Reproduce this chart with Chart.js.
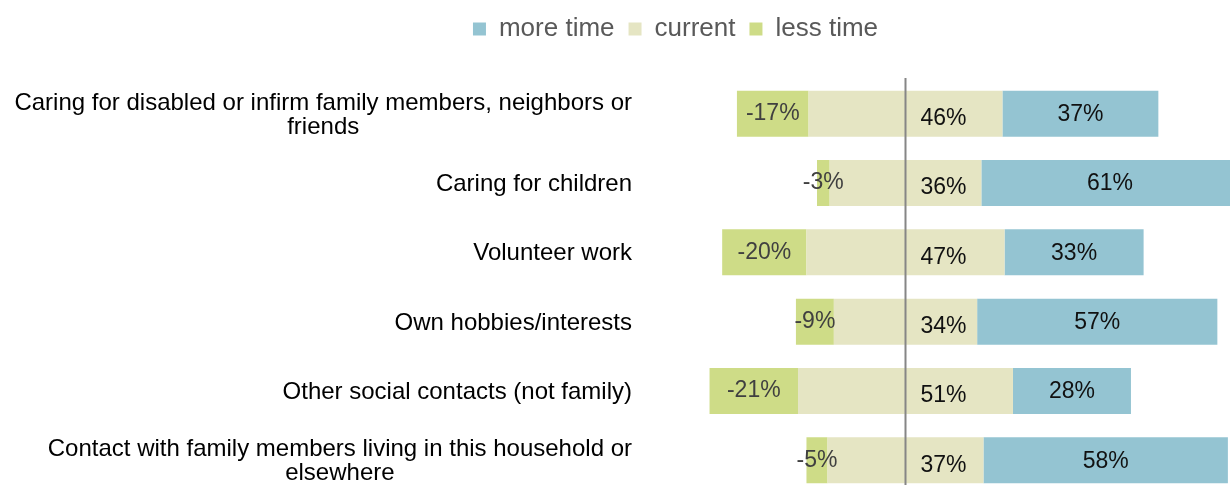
<!DOCTYPE html>
<html>
<head>
<meta charset="utf-8">
<title>Time use</title>
<script src="https://cdn.jsdelivr.net/npm/chart.js@4.4.1/dist/chart.umd.min.js"></script>
<style>
    html, body { margin: 0; padding: 0; background: #fff; overflow: hidden; }
    #wrap { position: relative; width: 1230px; height: 496px; }
</style>
</head>
<body>
<div id="wrap"><canvas id="bar-chart"></canvas></div>
<script>
"use strict";

var categories = [
    ["Caring for disabled or infirm family members, neighbors or", "friends"],
    ["Caring for children"],
    ["Volunteer work"],
    ["Own hobbies/interests"],
    ["Other social contacts (not family)"],
    ["Contact with family members living in this household or", "elsewhere"]
];
var lessTime = [-17, -3, -20, -9, -21, -5];
var currentTime = [46, 36, 47, 34, 51, 37];
var moreTime = [37, 61, 33, 57, 28, 58];

var FONT = '"Liberation Sans", Arial, sans-serif';
var COLOR_MORE = "#94C4D2";
var COLOR_CURRENT = "#E5E5C3";
var COLOR_LESS = "#CEDC87";

// legend sits a bit right of centre and leaves a fixed gap above the bars
var legendPlacement = {
    id: 'legendPlacement',
    beforeInit: function (chart) {
        var fit = chart.legend.fit;
        chart.legend.fit = function () {
            fit.call(this);
            this.height = 79;
        };
    },
    afterLayout: function (chart) {
        chart.legend.left += 121;
        chart.legend.top += 2;
    }
};

// zero line, value labels and the category names
var barLabels = {
    id: 'barLabels',
    afterDatasetsDraw: function (chart) {
        var ctx = chart.ctx;
        var xScale = chart.scales.x;
        var yScale = chart.scales.y;
        var area = chart.chartArea;
        var zero = xScale.getPixelForValue(0);

        ctx.save();
        ctx.strokeStyle = "#868686";
        ctx.lineWidth = 2;
        ctx.beginPath();
        ctx.moveTo(zero, area.top - 1);
        ctx.lineTo(zero, area.bottom);
        ctx.stroke();

        ctx.font = '23px ' + FONT;
        ctx.textBaseline = 'middle';

        //less time, centred in its segment
        ctx.textAlign = 'center';
        ctx.fillStyle = "#404040";
        chart.getDatasetMeta(1).data.forEach(function (bar, i) {
            ctx.fillText(lessTime[i] + '%', (bar.x + bar.base) / 2, bar.y);
        });

        //current, just right of the zero line
        ctx.textAlign = 'left';
        ctx.fillStyle = "#111";
        chart.getDatasetMeta(2).data.forEach(function (bar, i) {
            ctx.fillText(currentTime[i] + '%', zero + 15, bar.y + 5);
        });

        //more time
        ctx.textAlign = 'center';
        chart.getDatasetMeta(3).data.forEach(function (bar, i) {
            ctx.fillText(moreTime[i] + '%', (bar.x + bar.base) / 2, bar.y + 1);
        });

        //category names, lines centred on each other, block right aligned
        ctx.font = '24px ' + FONT;
        ctx.fillStyle = "#000";
        ctx.textAlign = 'center';
        var right = yScale.right - 8;
        categories.forEach(function (lines, i) {
            var widest = 0;
            lines.forEach(function (t) {
                widest = Math.max(widest, ctx.measureText(t).width);
            });
            var cy = yScale.getPixelForValue(i) + 1.5 - (lines.length - 1) * 12;
            lines.forEach(function (t, j) {
                ctx.fillText(t, right - widest / 2, cy + j * 24);
            });
        });
        ctx.restore();
    }
};

var barChartData = {
    labels: categories,
    datasets: [{
        label: "current-left",
        backgroundColor: COLOR_CURRENT,
        data: currentTime.map(function (v) { return -v / 2; })
    }, {
        label: "less time",
        backgroundColor: COLOR_LESS,
        data: lessTime
    }, {
        label: "current",
        backgroundColor: COLOR_CURRENT,
        data: currentTime.map(function (v) { return v / 2; })
    }, {
        label: "more time",
        backgroundColor: COLOR_MORE,
        data: moreTime
    }]
};

function draw() {
    var myBar = new Chart(document.getElementById("bar-chart"), {
        type: 'bar',
        data: barChartData,
        plugins: [legendPlacement, barLabels],
        options: {
            indexAxis: 'y',
            responsive: true,
            maintainAspectRatio: false,
            animation: false,
            layout: { padding: { top: 0, right: 0, bottom: 1, left: 0 } },
            datasets: {
                bar: {
                    categoryPercentage: 1,
                    barPercentage: 0.664,
                    borderWidth: 0
                }
            },
            scales: {
                x: {
                    stacked: true,
                    display: false,
                    min: -63,
                    max: 77
                },
                y: {
                    stacked: true,
                    grid: { display: false, drawTicks: false },
                    border: { display: false },
                    ticks: { display: false },
                    afterFit: function (scale) {
                        scale.width = 640;
                    }
                }
            },
            plugins: {
                tooltip: { enabled: false },
                legend: {
                    position: 'top',
                    reverse: true,
                    labels: {
                        boxWidth: 13,
                        boxHeight: 13,
                        padding: 14,
                        color: "#595959",
                        font: { size: 26, family: FONT },
                        filter: function (item) {
                            return item.datasetIndex !== 0;
                        }
                    }
                }
            }
        }
    });
}
draw();
</script>
</body>
</html>
